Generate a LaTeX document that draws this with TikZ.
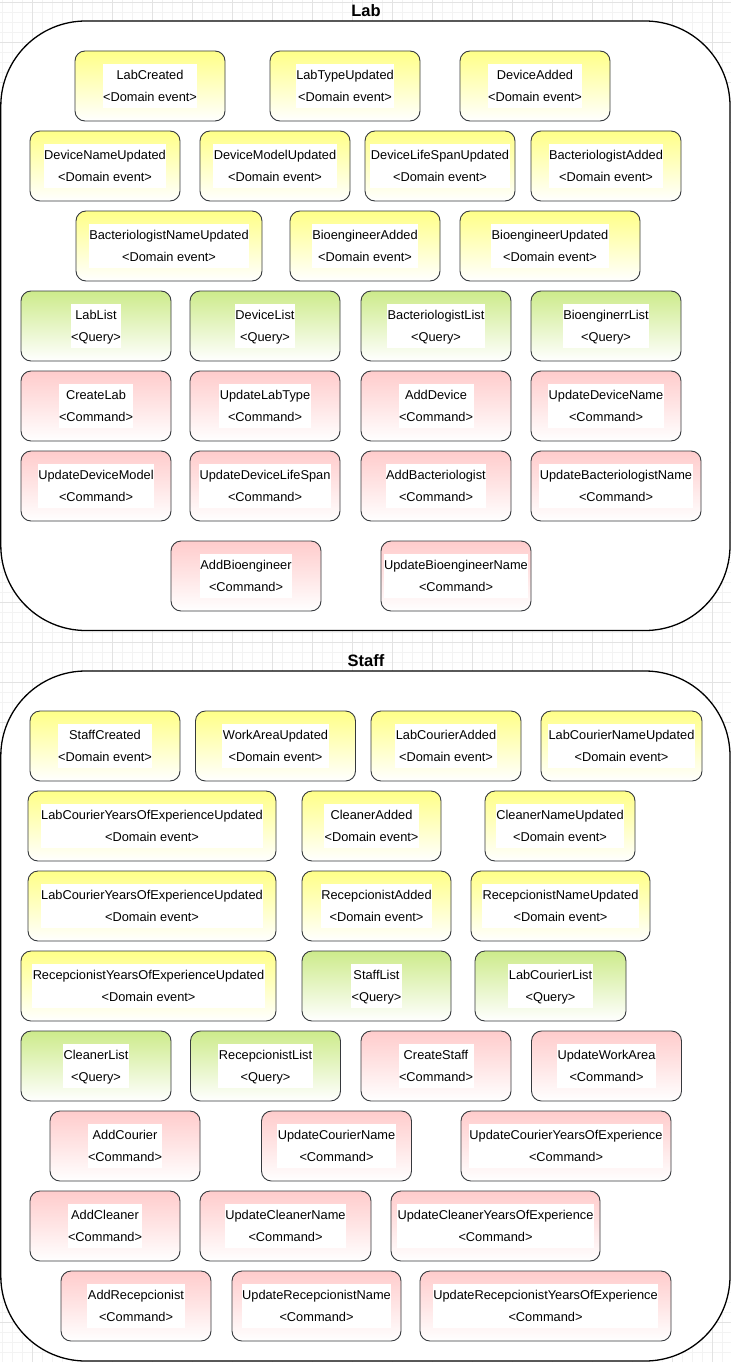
\documentclass[tikz,border=0pt]{standalone}
\usepackage{fontspec}
\setmainfont{Liberation Sans}
\usepackage{tikz}

\definecolor{evtyellow}{HTML}{FFFF88}
\definecolor{qrygreen}{HTML}{CDEB8B}
\definecolor{cmdred}{HTML}{FFCCCC}
\definecolor{edgegray}{HTML}{36393D}
\definecolor{gridminor}{HTML}{F3F3F3}
\definecolor{gridmajor}{HTML}{E3E3E3}

\newcommand{\card}[2]{{\setlength{\fboxsep}{0.5pt}\colorbox{white}{\begin{tabular}{@{}c@{}}#1\\#2\end{tabular}}}}

\tikzset{
  box/.style={draw=edgegray, line width=0.9pt, rounded corners=10pt, minimum width=150pt,
    minimum height=70pt, inner sep=1pt, font=\fontsize{12.8}{21.5}\selectfont},
  evt/.style={box, top color=evtyellow, bottom color=white},
  qry/.style={box, top color=qrygreen, bottom color=white},
  cmd/.style={box, top color=cmdred, bottom color=white},
  container/.style={draw=black, line width=1.3pt, fill=white, rounded corners=85pt},
  title/.style={font=\bfseries\fontsize{16.5}{19}\selectfont},
}

\begin{document}
\begin{tikzpicture}[x=1pt, y=-1pt]
\useasboundingbox (0,0) rectangle (731,1362);

% Background grid.
\foreach \gx in {2,12,...,731} \draw[gridminor, line width=0.8pt] (\gx,0) -- (\gx,1362);
\foreach \gy in {2,12,...,1362} \draw[gridminor, line width=0.8pt] (0,\gy) -- (731,\gy);
\foreach \gx in {32,72,...,731} \draw[gridmajor, line width=0.8pt] (\gx,0) -- (\gx,1362);
\foreach \gy in {2,42,...,1362} \draw[gridmajor, line width=0.8pt] (0,\gy) -- (731,\gy);

% Lab.
\draw[container] (0.8,21) rectangle (730,630.5);
\node[title] (labTitle) at (366,11) {Lab};

\node[evt] (labCreated) at (150,86) {\card{LabCreated}{<Domain event>}};
\node[evt] (labTypeUpdated) at (345,86) {\card{LabTypeUpdated}{<Domain event>}};
\node[evt] (deviceAdded) at (535,86) {\card{DeviceAdded}{<Domain event>}};

\node[evt] (deviceNameUpdated) at (105,166) {\card{DeviceNameUpdated}{<Domain event>}};
\node[evt] (deviceModelUpdated) at (275,166) {\card{DeviceModelUpdated}{<Domain event>}};
\node[evt] (deviceLifeSpanUpdated) at (440,166) {\card{DeviceLifeSpanUpdated}{<Domain event>}};
\node[evt] (bacteriologistAdded) at (606,166) {\card{BacteriologistAdded}{<Domain event>}};

\node[evt, minimum width=186pt] (bacteriologistNameUpdated) at (169,246) {\card{BacteriologistNameUpdated}{<Domain event>}};
\node[evt] (bioengineerAdded) at (365,246) {\card{BioengineerAdded}{<Domain event>}};
\node[evt, minimum width=180pt] (bioengineerUpdated) at (550,246) {\card{BioengineerUpdated}{<Domain event>}};

\node[qry] (labList) at (96,326) {\card{LabList}{<Query>}};
\node[qry] (deviceList) at (265,326) {\card{DeviceList}{<Query>}};
\node[qry] (bacteriologistList) at (436,326) {\card{BacteriologistList}{<Query>}};
\node[qry] (bioenginerrList) at (606,326) {\card{BioenginerrList}{<Query>}};

\node[cmd] (createLab) at (96,406) {\card{CreateLab}{<Command>}};
\node[cmd] (updateLabType) at (265,406) {\card{UpdateLabType}{<Command>}};
\node[cmd] (addDevice) at (436,406) {\card{AddDevice}{<Command>}};
\node[cmd] (updateDeviceName) at (606,406) {\card{UpdateDeviceName}{<Command>}};

\node[cmd] (updateDeviceModel) at (96,486) {\card{UpdateDeviceModel}{<Command>}};
\node[cmd] (updateDeviceLifeSpan) at (265,486) {\card{UpdateDeviceLifeSpan}{<Command>}};
\node[cmd] (addBacteriologist) at (436,486) {\card{AddBacteriologist}{<Command>}};
\node[cmd, minimum width=170pt] (updateBacteriologistName) at (616,486) {\card{UpdateBacteriologistName}{<Command>}};

\node[cmd] (addBioengineer) at (246,576) {\card{AddBioengineer}{<Command>}};
\node[cmd] (updateBioengineerName) at (456,576) {\card{UpdateBioengineerName}{<Command>}};

% Staff.
\draw[container] (0.8,671) rectangle (730,1361);
\node[title] (staffTitle) at (366,661) {Staff};

\node[evt] (staffCreated) at (105,746) {\card{StaffCreated}{<Domain event>}};
\node[evt, minimum width=160pt] (workAreaUpdated) at (275.5,746) {\card{WorkAreaUpdated}{<Domain event>}};
\node[evt] (labCourierAdded) at (446,746) {\card{LabCourierAdded}{<Domain event>}};
\node[evt, minimum width=161pt] (labCourierNameUpdated) at (621.5,746) {\card{LabCourierNameUpdated}{<Domain event>}};

\node[evt, minimum width=248pt] (labCourierYearsUpdatedA) at (152,826) {\card{LabCourierYearsOfExperienceUpdated}{<Domain event>}};
\node[evt, minimum width=139pt] (cleanerAdded) at (371.5,826) {\card{CleanerAdded}{<Domain event>}};
\node[evt] (cleanerNameUpdated) at (560,826) {\card{CleanerNameUpdated}{<Domain event>}};

\node[evt, minimum width=248pt] (labCourierYearsUpdatedB) at (152,906) {\card{LabCourierYearsOfExperienceUpdated}{<Domain event>}};
\node[evt, minimum width=149pt] (recepcionistAdded) at (376.5,906) {\card{RecepcionistAdded}{<Domain event>}};
\node[evt, minimum width=179pt] (recepcionistNameUpdated) at (560.5,906) {\card{RecepcionistNameUpdated}{<Domain event>}};

\node[evt, minimum width=255pt] (recepcionistYearsUpdated) at (148.5,986) {\card{RecepcionistYearsOfExperienceUpdated}{<Domain event>}};
\node[qry, minimum width=149pt] (staffList) at (376.5,986) {\card{StaffList}{<Query>}};
\node[qry, minimum width=151pt] (labCourierList) at (550.5,986) {\card{LabCourierList}{<Query>}};

\node[qry] (cleanerList) at (96,1066) {\card{CleanerList}{<Query>}};
\node[qry] (recepcionistList) at (265.5,1066) {\card{RecepcionistList}{<Query>}};
\node[cmd] (createStaff) at (436,1066) {\card{CreateStaff}{<Command>}};
\node[cmd] (updateWorkArea) at (606.5,1066) {\card{UpdateWorkArea}{<Command>}};

\node[cmd] (addCourier) at (125,1146) {\card{AddCourier}{<Command>}};
\node[cmd] (updateCourierName) at (336.5,1146) {\card{UpdateCourierName}{<Command>}};
\node[cmd, minimum width=210pt] (updateCourierYears) at (566,1146) {\card{UpdateCourierYearsOfExperience}{<Command>}};

\node[cmd] (addCleaner) at (105,1226) {\card{AddCleaner}{<Command>}};
\node[cmd, minimum width=171pt] (updateCleanerName) at (285.5,1226) {\card{UpdateCleanerName}{<Command>}};
\node[cmd, minimum width=209pt] (updateCleanerYears) at (495.5,1226) {\card{UpdateCleanerYearsOfExperience}{<Command>}};

\node[cmd] (addRecepcionist) at (136,1306) {\card{AddRecepcionist}{<Command>}};
\node[cmd, minimum width=169pt] (updateRecepcionistName) at (316.5,1306) {\card{UpdateRecepcionistName}{<Command>}};
\node[cmd, minimum width=251pt] (updateRecepcionistYears) at (545.5,1306) {\card{UpdateRecepcionistYearsOfExperience}{<Command>}};

\end{tikzpicture}
\end{document}
